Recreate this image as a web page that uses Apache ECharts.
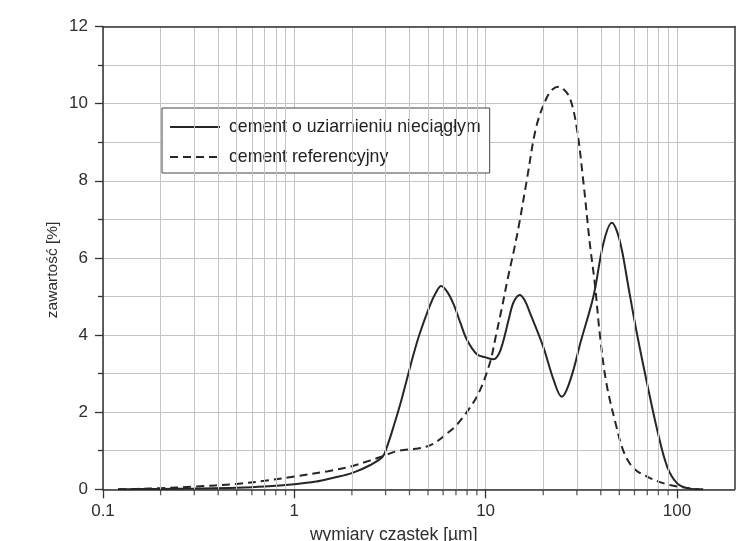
<!DOCTYPE html>
<html>
<head>
<meta charset="utf-8">
<script src="https://cdn.jsdelivr.net/npm/echarts@6/dist/echarts.min.js"></script>
<style>
html,body{margin:0;padding:0;background:#fff;}
#chart{width:746px;height:541px;}
</style>
</head>
<body>
<div id="chart"></div>
<script>
// ---- data ----
var seriesNames = ['cement o uziarnieniu nieciągłym', 'cement referencyjny'];
var xTickValues = [0.1, 1, 10, 100];
var xTickLabels = ['0.1', '1', '10', '100'];
var xMinorValues = [0.2,0.3,0.4,0.5,0.6,0.7,0.8,0.9, 2,3,4,5,6,7,8,9, 20,30,40,50,60,70,80,90];
var solidData = [
  [0.12,0],[0.15,0.005],[0.2,0.01],[0.3,0.02],[0.5,0.04],[0.7,0.07],[1,0.13],[1.3,0.2],[1.6,0.3],[2,0.42],
  [2.5,0.63],[2.9,0.85],[3.05,1.1],[3.3,1.62],[3.6,2.25],[3.9,2.9],[4.2,3.5],[4.5,4.0],[5.1,4.75],[5.5,5.1],
  [5.85,5.27],[6.3,5.12],[6.8,4.8],[7.4,4.3],[8.0,3.87],[9.0,3.5],[10,3.42],[11,3.37],[11.7,3.5],[12.3,3.8],
  [13.2,4.4],[14,4.85],[15.1,5.04],[16,4.9],[17.1,4.56],[20,3.7],[22.7,2.83],[25,2.4],[26.5,2.57],
  [28.8,3.1],[31.3,3.8],[36.6,5.0],[41.3,6.38],[45.7,6.91],[48.5,6.7],[51.6,6.2],[56,5.2],[61.8,4.04],
  [69.8,2.75],[78.9,1.54],[88.9,0.59],[100,0.16],[113,0.03],[130,0]
];
var dashedData = [
  [0.12,0],[0.15,0.01],[0.2,0.03],[0.3,0.07],[0.5,0.14],[0.7,0.22],[1,0.33],[1.5,0.47],[2,0.6],[2.5,0.75],
  [2.9,0.86],[3.5,1.0],[4.3,1.05],[5,1.12],[5.6,1.25],[6.3,1.45],[7,1.65],[7.7,1.9],[8.5,2.2],[9,2.4],
  [9.6,2.7],[10.1,3.0],[10.7,3.4],[11.2,3.87],[12.1,4.65],[13.1,5.5],[14,6.15],[15,6.9],[16.4,8.0],[18.4,9.4],
  [20.8,10.14],[22.5,10.38],[24,10.44],[25.5,10.38],[27.6,10.14],[29.9,9.4],[32.4,8.0],[35,6.4],[37.3,5.3],
  [39.5,4.04],[42.8,2.75],[48.3,1.62],[52,1.05],[56.7,0.67],[62,0.47],[69.8,0.33],[80,0.2],[92,0.11],
  [108,0.05],[125,0.01],[140,0]
];
var xName = 'wymiary cząstek [µm]';
var yName = 'zawartość [%]';

// ---- chart ----
var chart = echarts.init(document.getElementById('chart'), null, {renderer: 'canvas'});
var gridColor = '#c4c4c4';
var ink = '#262626';
var textColor = '#2e2e2e';
var frame = '#333';

var option = {
  backgroundColor: '#ffffff',
  animation: false,
  grid: {left: 103, top: 26.5, right: 11.5, bottom: 51.7, containLabel: false, outerBoundsMode: 'none'},
  legend: {
    left: 162, top: 108, orient: 'vertical',
    data: seriesNames,
    itemWidth: 50, itemHeight: 14, itemGap: 12,
    padding: [10, 9, 7, 7],
    borderColor: '#444', borderWidth: 1, backgroundColor: '#fff',
    itemStyle: {color: 'rgba(0,0,0,0)', borderColor: 'rgba(0,0,0,0)', borderWidth: 0, opacity: 0},
    textStyle: {fontFamily: 'Liberation Sans', fontSize: 17.7, color: '#222', lineHeight: 17, padding: [0, 0, 0, 4]}
  },
  xAxis: [{
    type: 'log', logBase: 10, min: 0.1, max: 200,
    name: xName, nameLocation: 'middle', nameGap: 37, nameMoveOverlap: false,
    nameTextStyle: {fontFamily: 'Liberation Sans', fontSize: 17.5, color: textColor, padding: [0, 50, 0, 0]},
    axisLine: {show: true, lineStyle: {color: frame, width: 1.5}},
    axisTick: {show: true, inside: false, length: 9, customValues: xTickValues, lineStyle: {color: frame, width: 1.3}},
    axisLabel: {
      customValues: xTickValues, margin: 14,
      fontFamily: 'Liberation Sans', fontSize: 17, color: textColor,
      formatter: function (v) {
        var k = Math.round(Math.log10(v)) + 1;
        return xTickLabels[k] !== undefined ? xTickLabels[k] : '';
      }
    },
    splitLine: {show: true, lineStyle: {color: gridColor, width: 1}},
    minorTick: {show: false},
    minorSplitLine: {show: false}
  }, {
    type: 'log', logBase: 10, min: 0.1, max: 200, position: 'top', z: 10,
    axisLine: {show: true, onZero: false, lineStyle: {color: frame, width: 1.5}},
    axisTick: {show: false}, axisLabel: {show: false}, splitLine: {show: false}
  }],
  yAxis: [{
    type: 'value', min: 0, max: 12, interval: 2,
    name: yName, nameLocation: 'middle', nameGap: 42, nameMoveOverlap: false,
    nameTextStyle: {fontFamily: 'Liberation Sans', fontSize: 15.5, color: textColor, padding: [0, 0, 0, -24]},
    axisLine: {show: true, lineStyle: {color: frame, width: 1.5}},
    axisTick: {show: true, inside: false, length: 8, lineStyle: {color: frame, width: 1.3}},
    minorTick: {show: true, splitNumber: 2, length: 5, lineStyle: {color: frame, width: 1.3}},
    axisLabel: {margin: 15, fontFamily: 'Liberation Sans', fontSize: 17, color: textColor},
    splitLine: {show: true, lineStyle: {color: gridColor, width: 1}},
    minorSplitLine: {show: true, lineStyle: {color: gridColor, width: 1}}
  }, {
    type: 'value', min: 0, max: 12, interval: 2, position: 'right', z: 10,
    axisLine: {show: true, onZero: false, lineStyle: {color: frame, width: 1.5}},
    axisTick: {show: false}, axisLabel: {show: false}, splitLine: {show: false}
  }],
  series: [
    {
      name: '_minor', type: 'scatter', z: 1, silent: true, clip: false,
      data: xMinorValues.map(function (v) { return [v, 0]; }),
      symbol: 'rect', symbolSize: [1.3, 6], symbolOffset: [0, 3],
      itemStyle: {color: frame},
      markLine: {
        silent: true, symbol: ['none', 'none'], label: {show: false},
        lineStyle: {color: gridColor, width: 1, type: 'solid'},
        data: xMinorValues.map(function (v) { return {xAxis: v}; })
      }
    },
    {
      name: seriesNames[0], type: 'line', z: 3, data: solidData,
      smooth: 0.35, symbol: 'none', showSymbol: false,
      lineStyle: {color: ink, width: 2, type: 'solid'},
      itemStyle: {color: ink}
    },
    {
      name: seriesNames[1], type: 'line', z: 3, data: dashedData,
      smooth: 0.35, symbol: 'none', showSymbol: false,
      lineStyle: {color: ink, width: 2, type: [8, 5]},
      itemStyle: {color: ink}
    }
  ]
};
chart.setOption(option);
</script>
</body>
</html>
